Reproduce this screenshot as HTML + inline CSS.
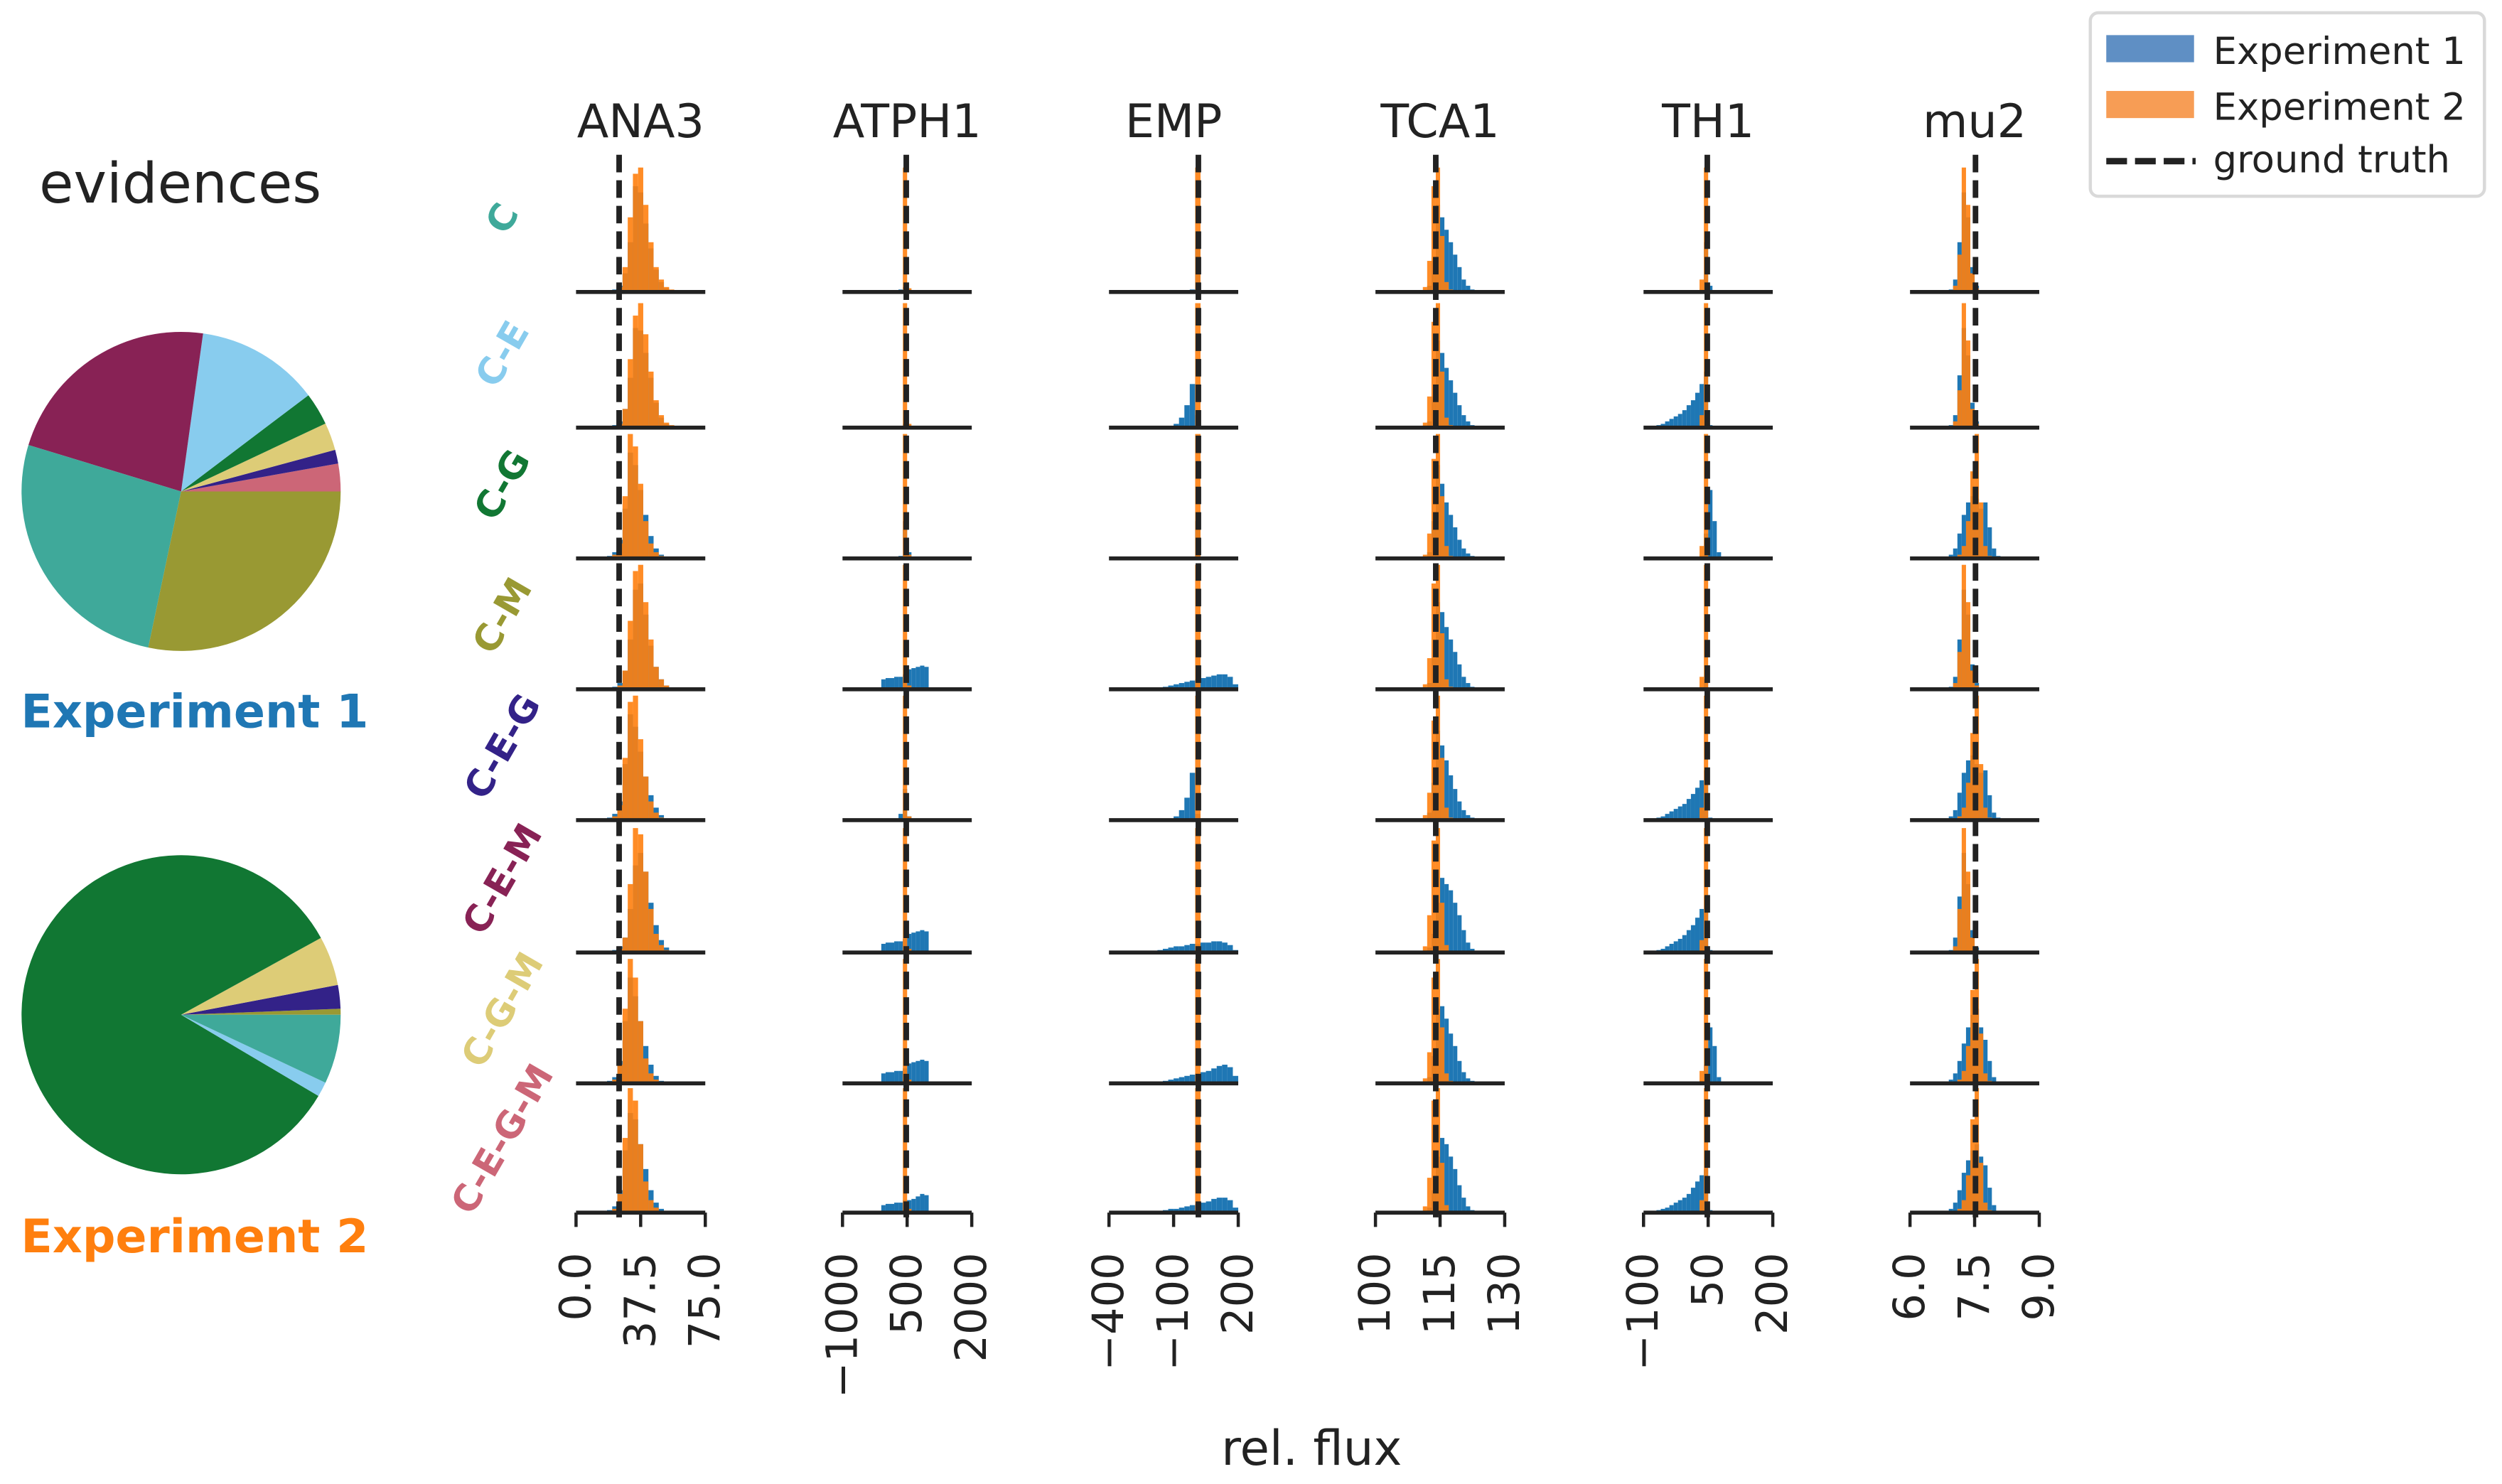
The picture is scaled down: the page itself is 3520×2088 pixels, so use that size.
<!DOCTYPE html>
<html><head><meta charset="utf-8">
<style>
html,body{margin:0;padding:0;background:#fff;}
svg{display:block;}
text{font-family:"DejaVu Sans","Liberation Sans",sans-serif;fill:#222;}
</style></head>
<body>
<svg id="fig" xmlns="http://www.w3.org/2000/svg" width="3520" height="2088" viewBox="0 0 1568 930.1">
<text x="113" y="127" font-size="35" text-anchor="middle">evidences</text>
<text x="122" y="456" font-size="29" font-weight="bold" text-anchor="middle" style="fill:#1f77b4">Experiment 1</text>
<text x="122" y="785" font-size="29" font-weight="bold" text-anchor="middle" style="fill:#ff7f0e">Experiment 2</text>
<text x="822" y="918" font-size="30" text-anchor="middle">rel. flux</text>
<g>
<rect x="1310" y="8" width="247" height="115" rx="5" fill="#fff" stroke="#d9d9d9" stroke-width="2"/>
<rect x="1320" y="22" width="55" height="17" fill="#5f8fc4"/>
<text x="1387" y="40" font-size="23.5">Experiment 1</text>
<rect x="1320" y="57" width="55" height="17" fill="#f79d55"/>
<text x="1387" y="75" font-size="23.5">Experiment 2</text>
<line x1="1320" y1="101" x2="1376" y2="101" stroke="#222" stroke-width="4" stroke-dasharray="13,5"/>
<text x="1387" y="108" font-size="23.5">ground truth</text>
</g>
</svg>
<script>
const pieLabels1=['C-E-G-M','C-E-G','C-G-M','C-G','C-E','C-E-M','C','C-M'];
const pieValues1=[2.8,1.4,2.8,3.3,12.5,22.5,26.4,28.3];
const pieLabels2=['C-M','C-E-G','C-G-M','C-G','C-E','C'];
const pieValues2=[0.6,2.4,5,83.5,1.5,7];
const categoryColors={'C':'#3fa99a','C-E':'#88ccee','C-G':'#117733','C-M':'#999933','C-E-G':'#332288','C-E-M':'#882255','C-G-M':'#ddcc77','C-E-G-M':'#cc6677'};

const columns=['ANA3','ATPH1','EMP','TCA1','TH1','mu2'];
const rows=['C','C-E','C-G','C-M','C-E-G','C-E-M','C-G-M','C-E-G-M'];
const domainMin=[0,-1000,-400,100,-100,6];
const domainMax=[75,2000,200,130,200,9];
const tickValues=[[0,37.5,75],[-1000,500,2000],[-400,-100,200],[100,115,130],[-100,50,200],[6,7.5,9]];
const tickLabels=[['0.0','37.5','75.0'],['\u22121000','500','2000'],['\u2212400','\u2212100','200'],['100','115','130'],['\u2212100','50','200'],['6.0','7.5','9.0']];
const groundTruth=[25,480,15,114,48,7.52];
const binStart=[15,-500,-250,108,-80,6.6];
const binWidth=[3,100,25,1,10,0.1];

const exp1_ANA3=[[0,1,2,5,15,40,85,80,55,35,18,8,3,1,0],[0,1,2,5,15,40,80,78,60,40,20,8,3,1,0],[0,2,5,15,40,85,75,55,35,18,8,3,1,0,0],[0,1,2,5,15,40,80,85,60,35,18,8,3,1,0],[0,2,5,15,45,85,75,55,35,20,10,4,1,0,0],[0,1,2,5,12,35,70,80,65,40,22,10,4,1,0],[0,2,5,18,50,85,70,50,30,15,6,2,1,0,0],[0,2,5,18,50,80,75,55,35,18,8,3,1,0,0]];
const exp2_ANA3=[[0,0,1,4,20,60,95,100,70,40,20,10,4,2,1],[0,0,1,3,15,55,90,100,75,45,22,10,4,2,1],[0,1,3,12,50,100,90,60,30,12,5,2,1,0,0],[0,0,1,3,15,55,95,100,70,40,18,8,3,1,0],[0,1,3,12,50,95,100,65,35,15,6,2,1,0,0],[0,0,1,3,12,55,100,95,65,35,15,6,2,1,0],[0,1,3,15,60,100,85,50,20,8,3,1,0,0,0],[0,1,3,15,60,100,90,55,25,10,4,1,0,0,0]];
const exp1_ATPH1=[[0,0,0,0,0,1,1,1,2,4,2,1,1,0,0,0,0,0,0,0],[0,0,0,0,0,0,0,0,0,3,0,0,0,0,0,0,0,0,0,0],[0,0,0,0,0,0,0,0,2,30,5,0,0,0,0,0,0,0,0,0],[0,0,0,0,8,9,9,10,10,12,16,17,18,19,18,0,0,0,0,0],[0,0,0,0,0,0,0,0,5,25,3,0,0,0,0,0,0,0,0,0],[0,0,0,0,7,8,8,9,9,11,15,16,17,18,17,0,0,0,0,0],[0,0,0,0,8,9,9,10,10,12,16,17,18,19,18,0,0,0,0,0],[0,0,0,0,6,7,7,8,8,10,10,11,13,15,14,0,0,0,0,0]];
const exp2_ATPH1=[[0,0,0,0,0,0,0,0,0,100,3,0,0,0,0,0,0,0,0,0],[0,0,0,0,0,0,0,0,0,100,3,0,0,0,0,0,0,0,0,0],[0,0,0,0,0,0,0,0,0,100,3,0,0,0,0,0,0,0,0,0],[0,0,0,0,0,0,0,0,0,100,3,0,0,0,0,0,0,0,0,0],[0,0,0,0,0,0,0,0,0,100,3,0,0,0,0,0,0,0,0,0],[0,0,0,0,0,0,0,0,0,100,3,0,0,0,0,0,0,0,0,0],[0,0,0,0,0,0,0,0,0,100,3,0,0,0,0,0,0,0,0,0],[0,0,0,0,0,0,0,0,0,100,3,0,0,0,0,0,0,0,0,0]];
const exp1_EMP=[[1,1,1,1,1,1,1,1,1,2,35,1,1,1,0,0,0,0],[0,0,0,0,0,0,3,8,18,35,10,0,0,0,0,0,0,0],[0,0,0,0,0,0,0,0,0,1,30,0,0,0,0,0,0,0],[0,0,0,0,2,3,4,5,6,7,8,9,10,11,12,12,10,4],[0,0,0,0,0,0,3,8,18,38,5,0,0,0,0,0,0,0],[0,0,1,2,3,4,5,5,6,7,7,8,8,9,9,8,6,2],[0,0,0,0,2,3,4,5,6,7,8,9,10,12,14,15,13,6],[0,0,0,0,2,3,3,4,5,6,7,8,9,11,12,12,10,4]];
const exp2_EMP=[[0,0,0,0,0,0,0,0,0,0,100,0,0,0,0,0,0,0],[0,0,0,0,0,0,0,0,0,0,100,0,0,0,0,0,0,0],[0,0,0,0,0,0,0,0,0,0,100,0,0,0,0,0,0,0],[0,0,0,0,0,0,0,0,0,0,100,0,0,0,0,0,0,0],[0,0,0,0,0,0,0,0,0,0,100,0,0,0,0,0,0,0],[0,0,0,0,0,0,0,0,0,0,100,0,0,0,0,0,0,0],[0,0,0,0,0,0,0,0,0,0,100,0,0,0,0,0,0,0],[0,0,0,0,0,0,0,0,0,0,100,0,0,0,0,0,0,0]];
const exp1_TCA1=[[0,0,0,1,5,25,70,60,50,40,30,20,10,5,2,1,0,0],[0,0,0,1,5,25,70,60,48,38,28,18,10,5,2,1,0,0],[0,0,0,1,5,30,75,60,45,35,25,15,8,4,2,1,0,0],[0,0,0,1,5,25,70,62,50,40,30,20,10,5,2,1,0,0],[0,0,0,1,6,30,72,60,48,36,25,15,8,4,2,1,0,0],[0,0,0,1,4,15,40,60,55,50,40,30,18,8,3,1,0,0],[0,0,0,1,5,22,60,62,52,40,30,18,9,4,2,1,0,0],[0,0,0,1,4,18,45,60,55,45,35,22,12,5,2,1,0,0]];
const exp2_TCA1=[[0,0,1,4,25,85,100,45,8,2,0,0,0,0,0,0,0,0],[0,0,1,4,25,85,100,45,8,2,0,0,0,0,0,0,0,0],[0,0,1,3,20,80,100,50,10,2,0,0,0,0,0,0,0,0],[0,0,1,4,25,85,100,45,8,2,0,0,0,0,0,0,0,0],[0,0,1,4,22,80,100,50,10,2,0,0,0,0,0,0,0,0],[0,0,1,5,30,90,100,40,6,1,0,0,0,0,0,0,0,0],[0,0,1,4,25,85,100,45,8,2,0,0,0,0,0,0,0,0],[0,0,1,5,28,90,100,40,6,1,0,0,0,0,0,0,0,0]];
const exp1_TH1=[[1,1,1,1,1,1,1,1,1,1,1,2,40,5,0,0,0,0],[1,2,3,5,7,9,11,14,18,22,28,35,45,2,0,0,0,0],[0,0,0,0,0,0,0,0,0,0,1,2,20,55,30,5,0,0],[0,0,0,0,0,0,0,0,0,0,0,1,8,1,0,0,0,0],[1,2,3,5,7,9,11,13,17,21,26,32,40,2,0,0,0,0],[1,2,3,5,7,9,11,14,18,22,28,35,45,2,0,0,0,0],[0,0,0,0,0,0,0,0,0,0,1,2,15,45,30,5,0,0],[1,2,3,4,6,8,10,12,15,20,25,30,35,2,0,0,0,0]];
const exp2_TH1=[[0,0,0,0,0,0,0,0,0,0,0,10,100,0,0,0,0,0],[0,0,0,0,0,0,0,0,0,0,0,10,100,0,0,0,0,0],[0,0,0,0,0,0,0,0,0,0,0,10,100,0,0,0,0,0],[0,0,0,0,0,0,0,0,0,0,0,10,100,0,0,0,0,0],[0,0,0,0,0,0,0,0,0,0,0,10,100,0,0,0,0,0],[0,0,0,0,0,0,0,0,0,0,0,10,100,0,0,0,0,0],[0,0,0,0,0,0,0,0,0,0,0,10,100,0,0,0,0,0],[0,0,0,0,0,0,0,0,0,0,0,10,100,0,0,0,0,0]];
const exp1_mu2=[[0,0,0,2,10,40,80,60,20,5,1,0,0,0,0,0,0,0],[0,0,0,2,10,42,80,58,20,5,1,0,0,0,0,0,0,0],[0,0,1,3,8,20,35,45,50,48,40,45,25,8,2,0,0,0],[0,0,0,2,10,40,80,60,20,5,1,0,0,0,0,0,0,0],[0,0,1,3,8,22,38,48,52,45,38,40,20,6,2,0,0,0],[0,0,0,2,12,45,80,55,18,4,1,0,0,0,0,0,0,0],[0,0,1,3,8,18,32,45,55,60,45,35,18,5,1,0,0,0],[0,0,1,3,8,18,32,42,50,55,45,38,20,6,1,0,0,0]];
const exp2_mu2=[[0,0,0,1,5,30,100,70,15,3,0,0,0,0,0,0,0,0],[0,0,0,1,5,30,100,70,15,3,0,0,0,0,0,0,0,0],[0,0,0,0,1,3,10,30,70,100,45,10,2,0,0,0,0,0],[0,0,0,1,5,30,100,70,15,3,0,0,0,0,0,0,0,0],[0,0,0,0,1,3,10,30,70,100,45,10,2,0,0,0,0,0],[0,0,0,1,5,35,100,65,12,2,0,0,0,0,0,0,0,0],[0,0,0,0,1,3,10,30,75,100,40,8,2,0,0,0,0,0],[0,0,0,0,1,3,10,30,75,100,40,8,2,0,0,0,0,0]];
const exp1Data=[exp1_ANA3,exp1_ATPH1,exp1_EMP,exp1_TCA1,exp1_TH1,exp1_mu2];
const exp2Data=[exp2_ANA3,exp2_ATPH1,exp2_EMP,exp2_TCA1,exp2_TH1,exp2_mu2];

const NS='http://www.w3.org/2000/svg';
const svg=document.getElementById('fig');
function mk(tag,attrs,parent){const e=document.createElementNS(NS,tag);for(const k in attrs)e.setAttribute(k,attrs[k]);(parent||svg).appendChild(e);return e;}

function drawPie(labels,values,cx,cy,r,name){
  const g=mk('g',{});
  
  
  const total=values.reduce((a,b)=>a+b,0);
  let a0=0;
  values.forEach((v,i)=>{
    const a1=a0+v/total*2*Math.PI;
    const x0=cx+r*Math.cos(a0),y0=cy-r*Math.sin(a0);
    const x1=cx+r*Math.cos(a1),y1=cy-r*Math.sin(a1);
    const large=(a1-a0)>Math.PI?1:0;
    const p=mk('path',{d:`M${cx},${cy} L${x0},${y0} A${r},${r} 0 ${large} 0 ${x1},${y1} Z`,fill:categoryColors[labels[i]]},g);
    
    
    a0=a1;
  });
}
drawPie(pieLabels1,pieValues1,113.5,308,100,'pie-experiment-1');
drawPie(pieLabels2,pieValues2,113.5,636,100,'pie-experiment-2');

const colLeft=[361,528,695,862,1030,1197];
const colW=81;
const baselines=[183,268,350,432,514,597,679,760];
const panelH=78;

columns.forEach((col,c)=>{
  const xs=v=>colLeft[c]+(v-domainMin[c])/(domainMax[c]-domainMin[c])*colW;
  const t=mk('text',{x:colLeft[c]+colW/2,y:86,'font-size':29,'text-anchor':'middle'});
  t.textContent=col;
  
  
  rows.forEach((row,r)=>{
    const g=mk('g',{});
    
    
    const d1=exp1Data[c][r],d2=exp2Data[c][r];
    const mx=Math.max(...d1,...d2);
    const ys=v=>baselines[r]-v/mx*panelH;
    [[d1,'#1f77b4',1,'exp1'],[d2,'#ff7f0e',0.9,'exp2']].forEach(([d,color,op,nm])=>{
      d.forEach((v,i)=>{
        if(v<=0)return;
        const xa=xs(binStart[c]+i*binWidth[c]),xb=xs(binStart[c]+(i+1)*binWidth[c]);
        const b=mk('rect',{x:xa,y:ys(v),width:Math.max(xb-xa,0.8),height:baselines[r]-ys(v),fill:color,'fill-opacity':op},g);
        
        
      });
    });
    const bl=mk('line',{x1:colLeft[c],x2:colLeft[c]+colW,y1:baselines[r],y2:baselines[r],stroke:'#222','stroke-width':2.5},g);
    
    
  });
  tickValues[c].forEach((tv,k)=>{
    const x=xs(tv);
    const tk=mk('line',{x1:x,x2:x,y1:760,y2:769,stroke:'#222','stroke-width':2});
    
    
    const tl=mk('text',{x:0,y:0,'font-size':27,'text-anchor':'end','dominant-baseline':'central',transform:`translate(${x},785) rotate(-90)`});
    tl.textContent=tickLabels[c][k];
    
    
  });
  const gx=xs(groundTruth[c]);
  const gt=mk('line',{x1:gx,x2:gx,y1:97,y2:763,stroke:'#222','stroke-width':3.5,'stroke-dasharray':'11,5'});
  
  
});

rows.forEach((row,r)=>{
  const cy=baselines[r]-46;
  const t=mk('text',{x:0,y:0,'font-size':23,'font-weight':'bold','text-anchor':'middle','dominant-baseline':'central',transform:`translate(315,${cy}) rotate(-60)`,style:'fill:'+categoryColors[row]});
  t.textContent=row;
  
  
});
</script>
</body></html>
